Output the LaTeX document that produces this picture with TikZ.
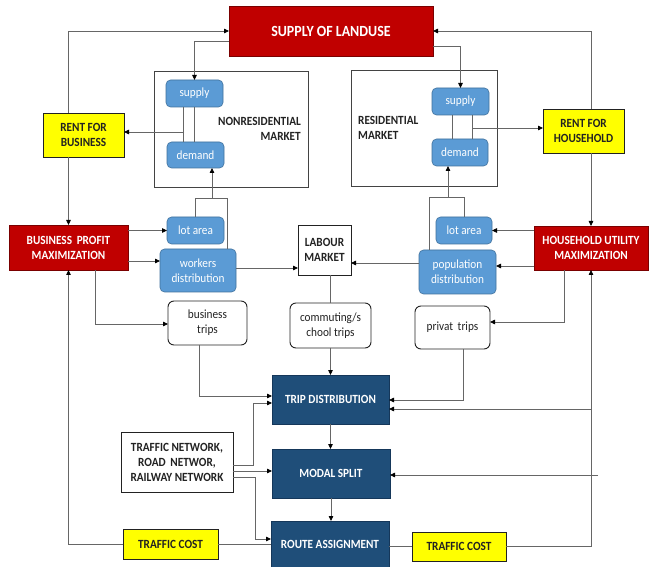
\documentclass[tikz,border=0pt]{standalone}
\usepackage{fontspec}
\setmainfont{Carlito}[FakeStretch=0.9]
\usetikzlibrary{arrows.meta,calc}
\definecolor{rbox}{HTML}{C00000}
\definecolor{rboxd}{HTML}{7A0000}
\definecolor{ybox}{HTML}{FFFF00}
\definecolor{bbox}{HTML}{5B9BD5}
\definecolor{bboxd}{HTML}{41719C}
\definecolor{nbox}{HTML}{1F4E79}
\definecolor{nboxd}{HTML}{15375A}
\definecolor{lcol}{HTML}{666666}
\definecolor{tcol}{HTML}{222222}
\tikzset{
  base/.style={inner sep=0pt, outer sep=0pt, anchor=north west, align=center},
  redbox/.style={base, fill=rbox, draw=rboxd, line width=0.9pt, text=white,
    font=\bfseries\fontsize{12.5}{15}\selectfont},
  yelbox/.style={base, fill=ybox, draw=tcol, line width=0.9pt, text=tcol,
    font=\bfseries\fontsize{12.5}{15}\selectfont},
  bluebox/.style={base, fill=bbox, draw=bboxd, line width=0.6pt, rounded corners=4.5pt, text=white,
    font=\fontsize{12.5}{15}\selectfont},
  navybox/.style={base, fill=nbox, draw=nboxd, line width=0.8pt, text=white,
    font=\bfseries\fontsize{12.5}{15}\selectfont},
  tripbox/.style={base, fill=white, draw=tcol, line width=0.9pt, rounded corners=6pt, text=tcol,
    font=\fontsize{12.5}{15}\selectfont},
  whitebox/.style={base, fill=white, draw=tcol, line width=0.9pt, text=tcol,
    font=\bfseries\fontsize{12.5}{15}\selectfont},
  market/.style={base, draw=tcol!85, line width=0.9pt},
  lbl/.style={inner sep=0pt, text=tcol, font=\bfseries\fontsize{12.5}{15}\selectfont},
  conn/.style={draw=lcol, line width=0.8pt},
  arr/.style={conn, -{Triangle[length=5pt,width=4.5pt,color=black]}}
}
\begin{document}
\begin{tikzpicture}[x=1pt,y=-1pt]
\useasboundingbox (0,0) rectangle (649,567);
\fill[white] (0,0) rectangle (649,567);

% top
\node[redbox, minimum width=204pt, minimum height=50pt, font=\bfseries\fontsize{15.5}{18}\selectfont] (supply) at (229,6) {SUPPLY OF LANDUSE};

% nonresidential market
\node[market, minimum width=154pt, minimum height=116pt] (nrm) at (154,71) {};
\node[bluebox, minimum width=57pt, minimum height=27pt] (nsup) at (166,80) {supply};
\node[bluebox, minimum width=57pt, minimum height=26pt] (ndem) at (167,142) {demand};
\node[lbl, align=right, anchor=east] (nrl) at (301,129) {NONRESIDENTIAL\\MARKET};
\node[yelbox, minimum width=81pt, minimum height=44pt] (rfb) at (43,113) {RENT FOR\\BUSINESS};

% residential market
\node[market, minimum width=146pt, minimum height=116pt] (rm) at (351,70) {};
\node[bluebox, minimum width=57pt, minimum height=27pt] (rsup) at (432,88) {supply};
\node[bluebox, minimum width=56pt, minimum height=27pt] (rdem) at (432,139) {demand};
\node[lbl, align=left, anchor=west] (rl) at (358,128) {RESIDENTIAL\\MARKET};
\node[yelbox, minimum width=81pt, minimum height=44pt] (rfh) at (543,109) {RENT FOR\\HOUSEHOLD};

% middle row
\node[redbox, minimum width=119pt, minimum height=45pt] (bpm) at (9,225) {BUSINESS\, PROFIT\\MAXIMIZATION};
\node[bluebox, minimum width=57pt, minimum height=27pt] (nlot) at (167,217) {lot area};
\node[bluebox, minimum width=76pt, minimum height=43pt] (wd) at (160,249) {workers\\distribution};
\node[whitebox, minimum width=53pt, minimum height=50pt] (lab) at (298,225) {LABOUR\\MARKET};
\node[bluebox, minimum width=56pt, minimum height=27pt] (rlot) at (436,217) {lot area};
\node[bluebox, minimum width=77pt, minimum height=44pt] (pop) at (419,250) {population\\distribution};
\node[redbox, minimum width=114pt, minimum height=44pt] (hum) at (534,226) {HOUSEHOLD UTILITY\\MAXIMIZATION};

% trips
\node[tripbox, minimum width=79pt, minimum height=44pt] (bt) at (168,301) {business\\trips};
\node[tripbox, minimum width=81pt, minimum height=45pt] (ct) at (290,303) {commuting/s\\chool trips};
\node[tripbox, minimum width=75pt, minimum height=43pt] (pt) at (415,306) {privat\, trips};

% transport model
\node[navybox, minimum width=117pt, minimum height=49pt] (td) at (272,375) {TRIP DISTRIBUTION};
\node[navybox, minimum width=118pt, minimum height=49pt] (ms) at (272,449) {MODAL SPLIT};
\node[navybox, minimum width=118pt, minimum height=47pt] (ra) at (271,521) {ROUTE ASSIGNMENT};
\node[whitebox, minimum width=112pt, minimum height=60pt] (tn) at (121,432) {TRAFFIC NETWORK,\\ROAD\, NETWOR,\\RAILWAY NETWORK};
\node[yelbox, minimum width=95pt, minimum height=30pt] (ltc) at (123,529) {TRAFFIC COST};
\node[yelbox, minimum width=94pt, minimum height=29pt] (rtc) at (412,532) {TRAFFIC COST};

% ---- connectors ----
% land supply loop
\draw[arr] (rfb.north -| bpm.north) |- (supply.west);
\draw[arr] ([yshift=-10pt]supply.west) -| (nsup.north);
\draw[conn] ([xshift=-11pt]nsup.south) -- ([xshift=-11pt]nsup.south |- ndem.north);
\draw[conn] (nsup.south) -- (nsup.south |- ndem.north);
\coordinate (nsd) at (184,132);
\draw[arr] (nsd) -- (nsd -| rfb.east);
\draw[arr] (rfb.south -| bpm.north) -- (bpm.north);

\draw[arr] ([yshift=-15pt]supply.east) -| (rsup.north);
\draw[conn] ([xshift=-8.5pt]rsup.south) -- ([xshift=-8.5pt]rsup.south |- rdem.north);
\draw[conn] ([xshift=11.5pt]rsup.south) -- ([xshift=11.5pt]rsup.south |- rdem.north);
\coordinate (rsd) at (472,128);
\draw[arr] (rsd) -- (rsd -| rfh.west);
\draw[arr] (rfh.north -| hum.north) |- (supply.east);
\draw[arr] (rfh.south -| hum.north) -- (hum.north);

% business side
\draw[arr] (bpm.east |- nlot.west) -- (nlot.west);
\coordinate (yw) at (0,261);
\draw[arr] (bpm.east |- yw) -- (wd.west |- yw);
\coordinate (nbrR) at (227,198);
\coordinate (nbrM) at (212,198);
\draw[conn] (nlot.north) |- (nbrR) -- (nbrR |- wd.north);
\draw[arr] (nbrM) -- (nbrM |- ndem.south);
\coordinate (ywl) at (0,268);
\draw[arr] (wd.east |- ywl) -- (lab.west |- ywl);

% household side
\coordinate (ypl) at (0,263);
\draw[arr] (pop.west |- ypl) -- (lab.east |- ypl);
\draw[arr] (hum.west |- rlot.east) -- (rlot.east);
\coordinate (yhp) at (0,266);
\draw[arr] (hum.west |- yhp) -- (pop.east |- yhp);
\coordinate (rbrL) at (429,197);
\coordinate (rbrM) at (448,197);
\draw[conn] (rlot.north) |- (rbrL) -- (rbrL |- pop.north);
\draw[arr] (rbrM) -- (rbrM |- rdem.south);

% trips
\coordinate (xb) at (95,324);
\draw[arr] (bpm.south -| xb) -- (xb) -- (xb -| bt.west);
\coordinate (xbt) at (199,396);
\draw[arr] (bt.south -| xbt) -- (xbt) -- (xbt -| td.west);
\draw[conn] (ct.north |- lab.south) -- (ct.north);
\draw[arr] (ct.south) -- (ct.south |- td.north);
\coordinate (xpt) at (463,400);
\draw[arr] (pt.south -| xpt) -- (xpt) -- (xpt -| td.east);
\coordinate (xhp) at (564,322);
\draw[arr] (hum.south -| xhp) -- (xhp) -- (xhp -| pt.east);

% feedback loops
\draw[arr] (rtc.east) -| (hum.south);
\coordinate (yrtd) at (0,409);
\draw[arr] (hum.south |- yrtd) -- (td.east |- yrtd);
\coordinate (rms) at (598,475);
\draw[arr] (rms) -- (rms -| ms.east);
\draw[arr] (ltc.west) -| (bpm.south);
\draw[conn] (ra.west |- ltc.east) -- (ltc.east);
\draw[conn] (ra.east |- rtc.west) -- (rtc.west);

% model chain
\draw[arr] (td.south) -- (td.south |- ms.north);
\draw[arr] (ms.south) -- (ms.south |- ra.north);

% traffic network
\coordinate (tn1) at (253,465);
\coordinate (ytd2) at (0,403);
\draw[arr] (tn.east |- tn1) -- (tn1) |- (td.west |- ytd2);
\coordinate (ytn2) at (0,471);
\draw[arr] (tn.east |- ytn2) -- (ms.west |- ytn2);
\coordinate (tn3) at (255,477);
\coordinate (ytn3) at (0,539);
\draw[arr] (tn.east |- tn3) -- (tn3) |- (ra.west |- ytn3);
\end{tikzpicture}
\end{document}
